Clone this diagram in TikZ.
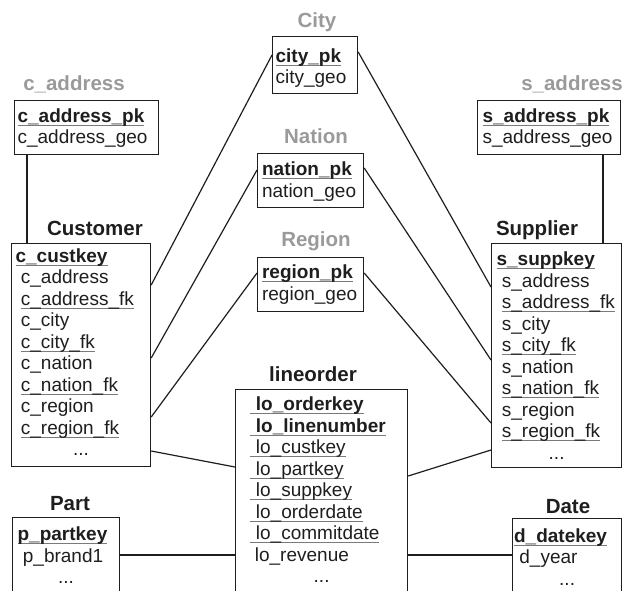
\documentclass[tikz,border=0pt]{standalone}
\usepackage{fontspec}
\setmainfont{Liberation Sans}
\usepackage{tikz}
\usetikzlibrary{positioning}

\definecolor{inkgray}{HTML}{1E1E1E}
\definecolor{titlegray}{HTML}{9A9A9A}
\definecolor{rulegray}{HTML}{7A7A7A}

\newsavebox\keybox
\newcommand{\ukey}[1]{\leavevmode\sbox\keybox{#1}\rlap{\color{rulegray}\rule[-3.5pt]{\wd\keybox}{1pt}}\usebox\keybox}
\newcommand{\pk}[1]{\ukey{\textbf{#1}}}
\newcommand{\fk}[1]{\ukey{#1}}
\newcommand{\rowind}{\hspace*{0.278em}}
\newcommand{\moredots}{\hspace*{\fill}...\hspace*{\fill}}
\newcommand{\rowfont}{\fontsize{19pt}{21.5pt}\selectfont}
\newcommand{\titlefont}{\fontsize{20.5pt}{22pt}\selectfont\bfseries}

\begin{document}
\begin{tikzpicture}[x=1pt, y=-1pt,
    tbl/.style={draw=inkgray, line width=1.2pt, rectangle, anchor=north west,
        align=left, inner ysep=0pt, font=\rowfont, text=inkgray},
    ttl/.style={anchor=base, inner sep=0pt, font=\titlefont, text=inkgray},
    gttl/.style={ttl, text=titlegray},
    link/.style={draw=inkgray, line width=1.2pt}]
    \path[use as bounding box, clip] (0,0) rectangle (623,590);

    % Geography tables
    \node[gttl] (cityT) at (317,27.5) {City};
    \node[tbl, inner xsep=3pt, text width=79pt, text height=25.7pt, text depth=31.3pt]
        (city) at (272,36) {\pk{city\_pk}\\city\_geo};
    \node[gttl] (nationT) at (316,143) {Nation};
    \node[tbl, inner xsep=4.5pt, text width=97pt, text height=22pt, text depth=32pt]
        (nation) at (257,153) {\pk{nation\_pk}\\nation\_geo};
    \node[gttl] (regionT) at (316,246.7) {Region};
    \node[tbl, inner xsep=4.5pt, text width=97pt, text height=21pt, text depth=33pt]
        (region) at (257,257) {\pk{region\_pk}\\region\_geo};

    % Address tables
    \node[gttl] (caddrT) at (74,90.7) {c\_address};
    \node[tbl, inner xsep=3pt, text width=138pt, text height=21.7pt, text depth=32.3pt]
        (caddr) at (14,100) {\pk{c\_address\_pk}\\c\_address\_geo};
    \node[gttl] (saddrT) at (572,90.7) {s\_address};
    \node[tbl, inner xsep=5pt, text width=133pt, text height=21.7pt, text depth=32.3pt]
        (saddr) at (477,100) {\pk{s\_address\_pk}\\s\_address\_geo};

    % Customer
    \node[ttl] (custT) at (95,235) {Customer};
    \node[tbl, inner xsep=4pt, text width=131pt, text height=18.7pt, text depth=204.3pt]
        (cust) at (11,243) {\pk{c\_custkey}\\
        \rowind c\_address\\
        \rowind\fk{c\_address\_fk}\\
        \rowind c\_city\\
        \rowind\fk{c\_city\_fk}\\
        \rowind c\_nation\\
        \rowind\fk{c\_nation\_fk}\\
        \rowind c\_region\\
        \rowind\fk{c\_region\_fk}\\
        \moredots};

    % Supplier
    \node[ttl] (suppT) at (537,235) {Supplier};
    \node[tbl, inner xsep=5pt, text width=120pt, text height=22pt, text depth=202pt]
        (supp) at (491,243) {\pk{s\_suppkey}\\
        \rowind s\_address\\
        \rowind\fk{s\_address\_fk}\\
        \rowind s\_city\\
        \rowind\fk{s\_city\_fk}\\
        \rowind s\_nation\\
        \rowind\fk{s\_nation\_fk}\\
        \rowind s\_region\\
        \rowind\fk{s\_region\_fk}\\
        \moredots};

    % Fact table
    \node[ttl] (loT) at (313,381.7) {lineorder};
    \node[tbl, inner xsep=14pt, text width=144pt, text height=21pt, text depth=210pt]
        (lo) at (235,389) {\pk{\ lo\_orderkey}\\
        \pk{\ lo\_linenumber}\\
        \fk{\ lo\_custkey}\\
        \fk{\ lo\_partkey}\\
        \fk{\ lo\_suppkey}\\
        \fk{\ lo\_orderdate}\\
        \fk{\ lo\_commitdate}\\
        \rowind lo\_revenue\\
        \moredots};

    % Part and Date
    \node[ttl] (partT) at (70,510.7) {Part};
    \node[tbl, inner xsep=5pt, text width=97pt, text height=23pt, text depth=80pt]
        (part) at (12,517) {\pk{p\_partkey}\\\rowind p\_brand1\\\moredots};
    \node[ttl] (dateT) at (568,513.3) {Date};
    \node[tbl, inner xsep=1.5pt, text width=106pt, text height=23.7pt, text depth=78.3pt]
        (date) at (512,518) {\pk{d\_datekey}\\\rowind d\_year\\\moredots};

    % Links
    \draw[link] ([xshift=13pt]caddr.south west) -- ([xshift=16pt]cust.north west);
    \draw[link] ([xshift=126pt]saddr.south west) -- ([xshift=112pt]supp.north west);
    \draw[link] ([yshift=-42pt]cust.north east) -- ([yshift=-19pt]city.north west);
    \draw[link] ([yshift=-115pt]cust.north east) -- ([yshift=-17pt]nation.north west);
    \draw[link] ([yshift=-174pt]cust.north east) -- ([yshift=-16pt]region.north west);
    \draw[link] ([yshift=-208pt]cust.north east) -- ([yshift=-78pt]lo.north west);
    \draw[link] ([yshift=-16pt]city.north east) -- ([yshift=-44pt]supp.north west);
    \draw[link] ([yshift=-15pt]nation.north east) -- ([yshift=-117pt]supp.north west);
    \draw[link] ([yshift=-16pt]region.north east) -- ([yshift=-180pt]supp.north west);
    \draw[link] ([yshift=-87pt]lo.north east) -- ([yshift=-207pt]supp.north west);
    \draw[link] ([yshift=-38pt]part.north east) -- ([yshift=-166pt]lo.north west);
    \draw[link] ([yshift=-166pt]lo.north east) -- ([yshift=-37pt]date.north west);
\end{tikzpicture}
\end{document}
